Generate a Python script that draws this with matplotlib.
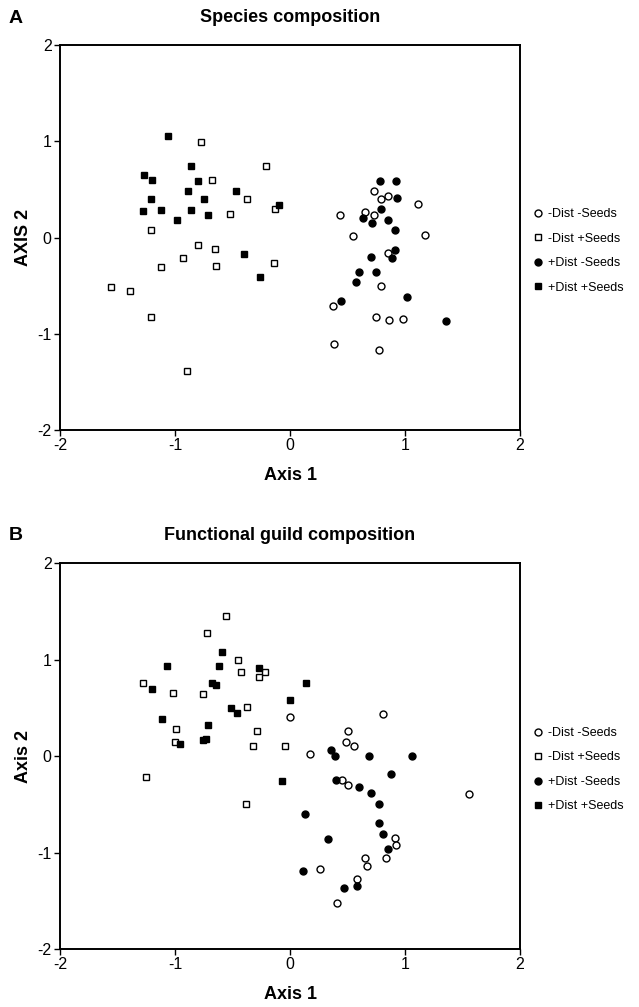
import matplotlib
matplotlib.use('Agg')
from matplotlib import rcParams
rcParams['font.family'] = ['Liberation Sans', 'DejaVu Sans']
rcParams['font.size'] = 11
rcParams['axes.unicode_minus'] = False
import matplotlib.pyplot as plt

# Panel A - species composition (axis 1, axis 2)
a_nd_ns_x = [0.73, 0.79, 0.85, 1.11, 0.43, 0.65, 0.73, 0.55, 1.17, 0.85, 0.79, 0.37, 0.75, 0.86, 0.98, 0.38, 0.77]
a_nd_ns_y = [0.49, 0.40, 0.43, 0.35, 0.24, 0.27, 0.24, 0.02, 0.03, -0.16, -0.50, -0.71, -0.82, -0.86, -0.85, -1.11, -1.17]
a_nd_s_x = [-0.77, -0.21, -0.68, -0.37, -0.13, -0.52, -1.21, -0.80, -0.65, -0.93, -1.12, -0.64, -0.14, -1.56, -1.39, -1.21, -0.90]
a_nd_s_y = [0.99, 0.74, 0.60, 0.40, 0.30, 0.25, 0.08, -0.08, -0.12, -0.21, -0.30, -0.29, -0.26, -0.51, -0.55, -0.82, -1.39]
a_d_ns_x = [0.78, 0.92, 0.93, 0.79, 0.63, 0.71, 0.85, 0.91, 0.91, 0.89, 0.70, 0.60, 0.75, 0.57, 1.02, 0.44, 1.36]
a_d_ns_y = [0.59, 0.59, 0.41, 0.30, 0.20, 0.15, 0.18, 0.08, -0.13, -0.21, -0.20, -0.36, -0.36, -0.46, -0.62, -0.66, -0.87]
a_d_s_x = [-1.06, -0.86, -1.27, -1.20, -0.80, -0.89, -0.47, -1.21, -0.75, -1.28, -1.12, -0.86, -0.71, -0.98, -0.10, -0.40, -0.26]
a_d_s_y = [1.06, 0.75, 0.65, 0.60, 0.59, 0.48, 0.49, 0.40, 0.40, 0.28, 0.29, 0.29, 0.24, 0.18, 0.34, -0.17, -0.41]

# Panel B - functional guild composition
b_nd_ns_x = [0.00, 0.81, 0.50, 0.49, 0.56, 0.17, 0.45, 0.50, 1.56, 0.91, 0.92, 0.65, 0.83, 0.67, 0.26, 0.58, 0.41]
b_nd_ns_y = [0.41, 0.44, 0.26, 0.15, 0.11, 0.02, -0.25, -0.30, -0.39, -0.85, -0.92, -1.06, -1.06, -1.14, -1.17, -1.27, -1.52]
b_nd_s_x = [-0.56, -0.72, -0.45, -0.43, -0.22, -0.27, -1.28, -1.02, -0.76, -0.37, -0.99, -0.29, -1.00, -1.25, -0.38, -0.04, -0.32]
b_nd_s_y = [1.45, 1.28, 1.00, 0.87, 0.87, 0.82, 0.76, 0.66, 0.64, 0.51, 0.28, 0.26, 0.15, -0.22, -0.50, 0.11, 0.11]
b_d_ns_x = [0.36, 0.39, 0.69, 1.06, 0.88, 0.40, 0.60, 0.70, 0.77, 0.13, 0.77, 0.81, 0.33, 0.85, 0.11, 0.58, 0.47]
b_d_ns_y = [0.06, 0.00, 0.00, 0.00, -0.19, -0.25, -0.32, -0.38, -0.50, -0.60, -0.69, -0.81, -0.86, -0.96, -1.19, -1.35, -1.37]
b_d_s_x = [-0.59, -1.07, -0.62, -0.27, 0.14, -1.20, -0.68, -0.64, 0.00, -0.51, -0.46, -1.11, -0.71, -0.76, -0.73, -0.96, -0.07]
b_d_s_y = [1.08, 0.94, 0.93, 0.91, 0.76, 0.70, 0.76, 0.74, 0.58, 0.50, 0.45, 0.39, 0.32, 0.17, 0.18, 0.13, -0.26]

labels = ['-Dist -Seeds', '-Dist +Seeds', '+Dist -Seeds', '+Dist +Seeds']
ticks = [-2, -1, 0, 1, 2]


def panel(ax, groups, title, ylabel):
    styles = [('o', 'white'), ('s', 'white'), ('o', 'black'), ('s', 'black')]
    for (gx, gy), (m, fc), lab in zip(groups, styles, labels):
        ax.plot(gx, gy, m, ms=5, mfc=fc, mec='black', mew=1.0, ls='none', label=lab)
    ax.set_xlim(-2, 2)
    ax.set_ylim(-2, 2)
    ax.set_xticks(ticks)
    ax.set_yticks(ticks)
    ax.tick_params(direction='out', length=4, width=1, labelsize=11.5, pad=2)
    for s in ax.spines.values():
        s.set_linewidth(1.4)
    ax.set_xlabel('Axis 1', fontweight='bold', fontsize=13, labelpad=10)
    ax.set_ylabel(ylabel, fontweight='bold', fontsize=13, labelpad=4)
    ax.set_title(title, fontweight='bold', fontsize=13, pad=17)
    ax.legend(loc='center left', bbox_to_anchor=(1.02, 0.465), frameon=False,
              fontsize=9, handlelength=0.6, handletextpad=0.5, labelspacing=1.0,
              borderaxespad=0)


fig = plt.figure(figsize=(6.39, 10.07), dpi=100)
axA = fig.add_axes([0.0939, 0.573, 0.72, 0.382])
axB = fig.add_axes([0.0939, 0.0576, 0.72, 0.383])

panel(axA, [(a_nd_ns_x, a_nd_ns_y), (a_nd_s_x, a_nd_s_y), (a_d_ns_x, a_d_ns_y), (a_d_s_x, a_d_s_y)],
      'Species composition', 'AXIS 2')
panel(axB, [(b_nd_ns_x, b_nd_ns_y), (b_nd_s_x, b_nd_s_y), (b_d_ns_x, b_d_ns_y), (b_d_s_x, b_d_s_y)],
      'Functional guild composition', 'Axis 2')

fig.text(0.014, 0.982, 'A', fontweight='bold', fontsize=14, va='center')
fig.text(0.014, 0.468, 'B', fontweight='bold', fontsize=14, va='center')

fig.savefig('out.png', dpi=100)
plt.close(fig)
